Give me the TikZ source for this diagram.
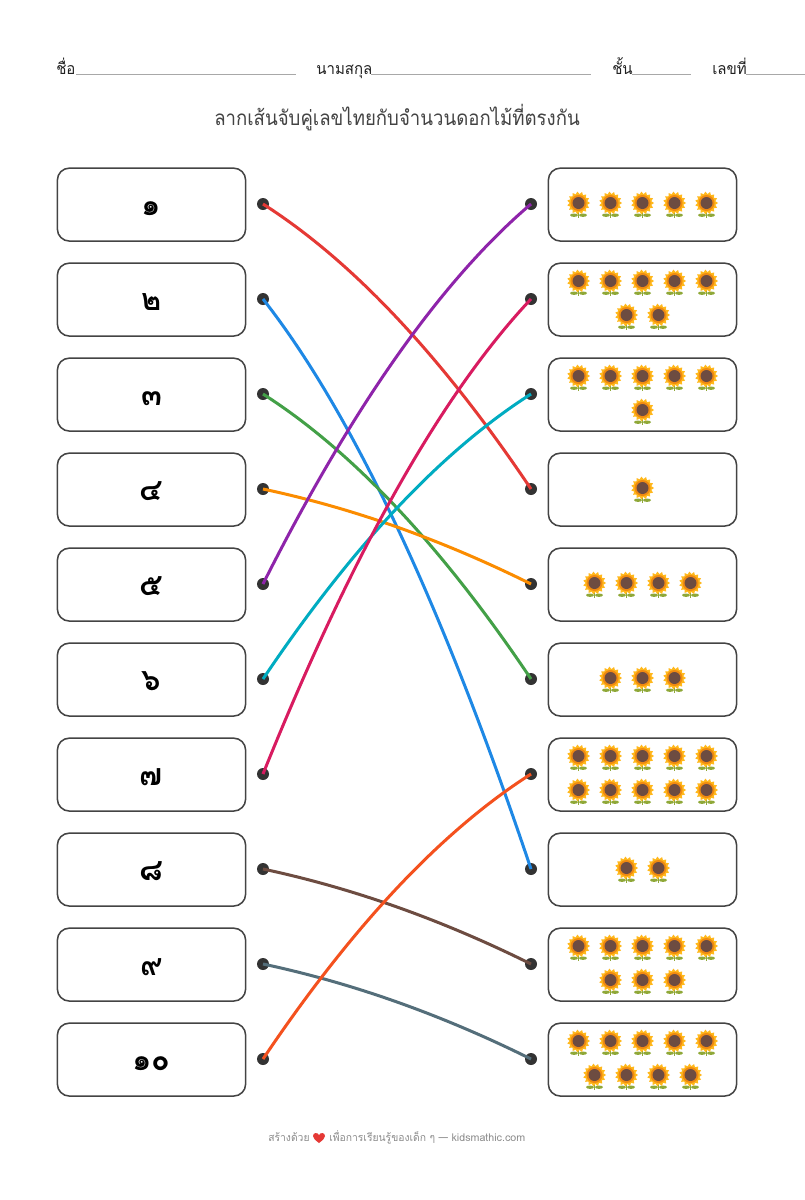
\documentclass[tikz,border=0pt]{standalone}
\usepackage{fontspec}
\usetikzlibrary{calc}
\newfontfamily\thaifont[Script=Thai]{Loma}
\newfontfamily\thaihead[Script=Thai,FakeStretch=0.94]{Loma}
\newfontfamily\thaititle[Script=Thai,FakeStretch=0.9]{Loma}
\newfontfamily\thaifoot[Script=Thai,FakeStretch=0.97]{Loma}
\definecolor{ink}{HTML}{222222}
\definecolor{boxline}{HTML}{444444}
\definecolor{dotc}{HTML}{333333}
\definecolor{ulc}{HTML}{A8A8A8}
\definecolor{cA}{HTML}{E53935}
\definecolor{cB}{HTML}{1E88E5}
\definecolor{cC}{HTML}{43A047}
\definecolor{cD}{HTML}{FB8C00}
\definecolor{cE}{HTML}{8E24AA}
\definecolor{cF}{HTML}{00ACC1}
\definecolor{cG}{HTML}{D81B60}
\definecolor{cH}{HTML}{6D4C41}
\definecolor{cI}{HTML}{546E7A}
\definecolor{cJ}{HTML}{F4511E}
\definecolor{petal}{HTML}{FFB81C}
\definecolor{ring}{HTML}{F08A10}
\definecolor{seed}{HTML}{6D4C41}
\definecolor{leaf}{HTML}{8FA838}
\tikzset{
  cardbox/.style={draw=boxline,line width=1.15pt,rounded corners=9pt,fill=white,minimum width=141.2pt,minimum height=54.7pt,inner sep=0pt,outer sep=0pt},
  numtext/.style={text=black,font=\thaifont\bfseries\fontsize{23}{23}\selectfont,text height=16.5pt,text depth=0pt},
  dotnode/.style={circle,fill=dotc,minimum size=9pt,inner sep=0pt,outer sep=0pt},
  link/.style={line width=2.25pt},
  headtext/.style={text=ink,inner sep=0pt,anchor=base west,font=\thaihead\fontsize{12}{14}\selectfont},
  titletext/.style={text=ink!85,inner sep=0pt,anchor=base,font=\thaititle\fontsize{15.5}{18}\selectfont},
  foottext/.style={text=black!45,inner sep=0pt,anchor=base west,font=\thaifoot\fontsize{8}{10}\selectfont},
  ulline/.style={draw=ulc,line width=1.1pt},
  heartshape/.style={fill=cA},
  pics/sunflower/.style={code={
    \fill[leaf] (-4.5,12.2) ellipse [x radius=4,y radius=1.7];
    \fill[leaf] (4.5,12.2) ellipse [x radius=4,y radius=1.7];
    \draw[leaf,line width=1.2pt] (0,7) -- (0,15);
    \fill[petal] (0:11.5) \foreach \a in {0,24,...,336}{ -- (\a:11.5) -- (\a+12:9)} -- cycle;
    \fill[ring] (0,0) circle [radius=8];
    \fill[seed] (0,0) circle [radius=6];
  }}
}
\newcommand{\flrow}[2]{% y, count
  \foreach \k in {1,...,#2}{
    \pic at ({642.5+(\k-1-(#2-1)/2)*32},{#1-2}) {sunflower};
  }}
\newcommand{\conn}[4]{% from, to, colour, lift
  \path ($(#1.center)!.5!(#2.center)+(0,-#4)$) coordinate (q);
  \draw[link,#3] (#1.center) .. controls ($(#1.center)!.6667!(q)$) and ($(#2.center)!.6667!(q)$) .. (#2.center);
}
\begin{document}
\begin{tikzpicture}[x=0.75pt,y=-0.75pt]
\useasboundingbox (0,0) rectangle (805,1200);
\fill[white] (0,0) rectangle (805,1200);
% header
\node[headtext] (h1) at (56,74) {ชื่อ};
\node[headtext] (h2) at (316,74) {นามสกุล};
\node[headtext] (h3) at (612,74) {ชั้น};
\node[headtext] (h4) at (712,74) {เลขที่};
\coordinate (u1a) at (76,74.5); \coordinate (u1b) at (296,74.5);
\coordinate (u2a) at (371,74.5); \coordinate (u2b) at (591,74.5);
\coordinate (u3a) at (632,74.5); \coordinate (u3b) at (691,74.5);
\coordinate (u4a) at (746,74.5); \coordinate (u4b) at (805,74.5);
\draw[ulline] (u1a)--(u1b);
\draw[ulline] (u2a)--(u2b);
\draw[ulline] (u3a)--(u3b);
\draw[ulline] (u4a)--(u4b);
\node[titletext] (title) at (397,125) {ลากเส้นจับคู่เลขไทยกับจำนวนดอกไม้ที่ตรงกัน};
% boxes and dots
\foreach \i/\t/\d in {1/205/๑,2/300/๒,3/395/๓,4/490/๔,5/585/๕,6/680/๖,7/775/๗,8/870/๘,9/965/๙,10/1060/๑๐}{
  \node[cardbox,numtext] (L\i) at (151.5,\t-0.4) {\d};
  \node[cardbox] (R\i) at (642.5,\t-0.4) {};
  \node[dotnode] (a\i) at (263,\t-1) {};
  \node[dotnode] (b\i) at (531,\t-1) {};
}
% flowers
\flrow{205}{5}
\flrow{283}{5}\flrow{317}{2}
\flrow{378}{5}\flrow{412}{1}
\flrow{490}{1}
\flrow{585}{4}
\flrow{680}{3}
\flrow{758}{5}\flrow{792}{5}
\flrow{870}{2}
\flrow{948}{5}\flrow{982}{3}
\flrow{1043}{5}\flrow{1077}{4}
% connectors
\conn{a1}{b4}{cA}{57}
\conn{a2}{b8}{cB}{114}
\conn{a3}{b6}{cC}{57}
\conn{a4}{b5}{cD}{19}
\conn{a5}{b1}{cE}{76}
\conn{a6}{b3}{cF}{57}
\conn{a7}{b2}{cG}{95}
\conn{a8}{b9}{cH}{19}
\conn{a9}{b10}{cI}{19}
\conn{a10}{b7}{cJ}{57}
% footer
\node[foottext] (f1) at (268,1141) {สร้างด้วย};
\fill[heartshape] (319,1143) .. controls (315,1140) and (313,1138) .. (313,1136) .. controls (313,1132.5) and (317.5,1132) .. (319,1135) .. controls (320.5,1132) and (325,1132.5) .. (325,1136) .. controls (325,1138) and (323,1140) .. (319,1143) -- cycle;
\node[foottext] (f2) at (329,1141) {เพื่อการเรียนรู้ของเด็ก ๆ — {\thaifont kidsmathic.com}};
\end{tikzpicture}
\end{document}
